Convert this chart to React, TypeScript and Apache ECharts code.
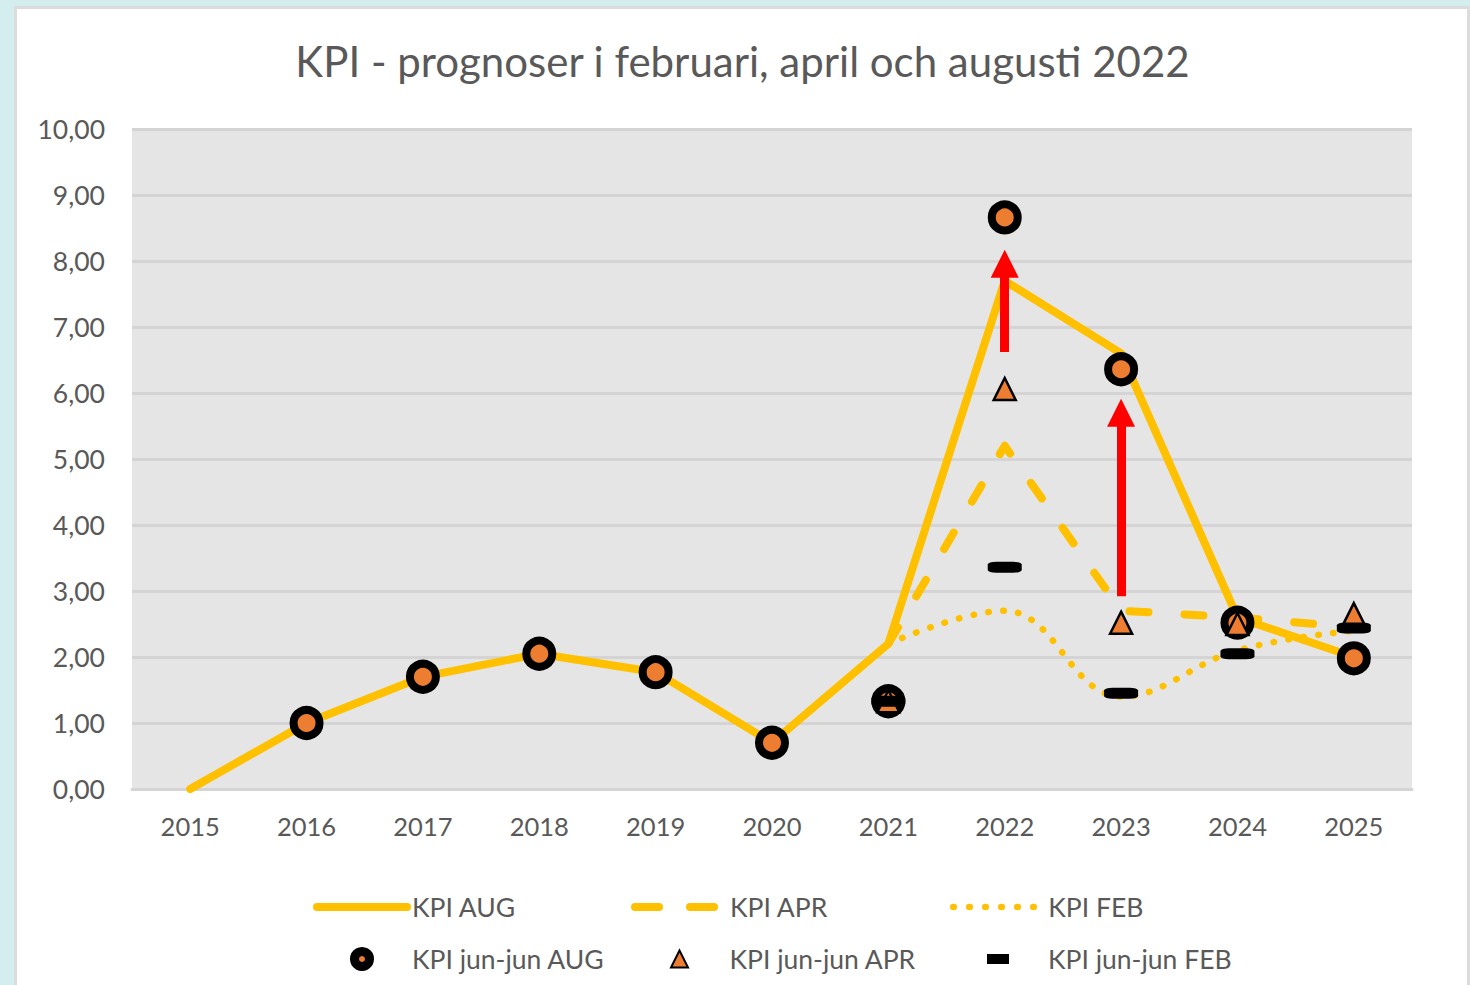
import React, { useEffect, useRef } from "react";
import * as echarts from "echarts";

const years = ["2015", "2016", "2017", "2018", "2019", "2020", "2021", "2022", "2023", "2024", "2025"];
const kpiAug = [0.0, 1.0, 1.7, 2.05, 1.77, 0.7, 2.2, 7.7, 6.6, 2.6, 2.0];
const kpiApr = [null, null, null, null, null, null, 2.2, 5.2, 2.7, 2.6, 2.45];
const kpiFeb = [null, null, null, null, null, null, 2.2, 2.7, 1.4, 2.1, 2.4];
const junAug = [null, 1.0, 1.7, 2.05, 1.77, 0.7, 1.33, 8.66, 6.36, 2.52, 1.98];
const junApr = [null, null, null, null, null, null, 1.33, 6.06, 2.52, 2.5, 2.65];
const junFeb = [null, null, null, null, null, null, 1.33, 3.36, 1.45, 2.05, 2.44];
// red annotation arrows: [year, from value, arrow-head centre value]
const arrows: [string, number, number][] = [
  ["2022", 6.62, 7.96],
  ["2023", 2.92, 5.7],
];
const yTicks = { min: 0, max: 10, interval: 1 };

const FONT = "Lato";
const TXT = "#595959";
const YEL = "#FFC000";
const ORG = "#ED7D31";

export default function App() {
  const ref = useRef<HTMLDivElement>(null);
  useEffect(() => {
    const chart = echarts.init(ref.current!, null, { renderer: "svg" });
    const legendBase = (left: number, top: number, name: string, extra: any) => ({
      left,
      top,
      padding: 0,
      itemWidth: 90,
      itemGap: 0,
      selectedMode: false,
      textStyle: { color: TXT, fontSize: 26.5, fontFamily: FONT, lineHeight: 30 },
      itemHeight: extra.itemHeight,
      data: [{ name, ...(extra.item || {}) }],
    });
    const hideDot = { color: "transparent", borderWidth: 0, opacity: 0 };
    const dash = [19, 36];
    const dots = [0.5, 14.5];
    chart.setOption({
      animation: false,
      title: {
        text: "KPI - prognoser i februari, april och augusti 2022",
        left: "center",
        top: 31,
        textStyle: { color: TXT, fontSize: 42, fontWeight: "normal", fontFamily: FONT, lineHeight: 50 },
      },
      grid: {
        left: 115,
        right: 56,
        top: 129,
        bottom: 196,
        show: true,
        backgroundColor: "#e5e5e5",
        borderWidth: 0,
      },
      legend: [
        legendBase(296, 892, "KPI AUG", {
          itemHeight: 14,
          item: { itemStyle: hideDot, lineStyle: { width: 8, cap: "round", type: "solid" } },
        }),
        legendBase(614, 892, "KPI APR", {
          itemHeight: 14,
          item: { itemStyle: hideDot, lineStyle: { width: 8, cap: "round", type: [24, 31] } },
        }),
        legendBase(933, 892, "KPI FEB", {
          itemHeight: 14,
          item: { itemStyle: hideDot, lineStyle: { width: 6.5, cap: "round", type: [0.5, 15.5] } },
        }),
        legendBase(333, 944, "KPI jun-jun AUG", {
          itemHeight: 15,
          item: { itemStyle: { color: ORG, borderColor: "#000", borderWidth: 9 } },
        }),
        legendBase(653, 944, "KPI jun-jun APR", {
          itemHeight: 17,
          item: { icon: "path://M5,0L10,10L0,10Z", itemStyle: { color: ORG, borderColor: "#000", borderWidth: 2 } },
        }),
        legendBase(970, 944, "KPI jun-jun FEB", {
          itemHeight: 10,
          item: { icon: "path://M0,0h22v10h-22z", itemStyle: { color: "#000", borderWidth: 0 } },
        }),
      ],
      xAxis: {
        type: "category",
        data: years,
        boundaryGap: true,
        axisTick: { show: false },
        axisLine: { show: true, lineStyle: { color: "#d4d4d4", width: 3 } },
        axisLabel: { color: TXT, fontSize: 25.5, fontFamily: FONT, margin: 24 },
      },
      yAxis: {
        type: "value",
        ...yTicks,
        axisLine: { show: false },
        axisTick: { show: false },
        splitLine: { lineStyle: { color: "#d4d4d4", width: 3 } },
        axisLabel: {
          color: TXT,
          fontSize: 26.5,
          fontFamily: FONT,
          margin: 27,
          formatter: (v: number) => v.toFixed(2).replace(".", ","),
        },
      },
      series: [
        {
          name: "KPI AUG",
          type: "line",
          data: kpiAug,
          symbol: "none",
          z: 3,
          lineStyle: { color: YEL, width: 8, cap: "round", join: "round" },
          itemStyle: { color: YEL },
        },
        {
          name: "KPI APR",
          type: "line",
          data: kpiApr,
          symbol: "none",
          z: 2,
          lineStyle: { color: YEL, width: 8, type: dash, cap: "round", join: "round" },
          itemStyle: { color: YEL },
        },
        {
          name: "KPI FEB",
          type: "line",
          data: kpiFeb,
          symbol: "none",
          smooth: 0.4,
          z: 2,
          lineStyle: { color: YEL, width: 6.5, type: dots, cap: "round" },
          itemStyle: { color: YEL },
        },
        {
          name: "KPI jun-jun AUG",
          type: "scatter",
          data: junAug,
          symbol: "circle",
          symbolSize: 26,
          z: 4,
          itemStyle: { color: ORG, borderColor: "#000", borderWidth: 8, opacity: 1 },
        },
        {
          name: "KPI jun-jun APR",
          type: "scatter",
          data: junApr,
          symbol: "triangle",
          symbolSize: [22, 22],
          z: 5,
          itemStyle: { color: ORG, borderColor: "#000", borderWidth: 2.5, opacity: 1 },
        },
        {
          name: "KPI jun-jun FEB",
          type: "scatter",
          data: junFeb,
          symbol: "roundRect",
          symbolSize: [34, 11],
          z: 6,
          itemStyle: { color: "#000", opacity: 1 },
        },
        {
          name: "arrows",
          type: "line",
          data: [],
          z: 10,
          markLine: {
            silent: true,
            symbol: ["none", "triangle"],
            symbolSize: 28,
            label: { show: false },
            lineStyle: { color: "#ff0000", width: 9, type: "solid" },
            emphasis: { disabled: true },
            data: arrows.map(([y, a, b]) => [
              { coord: [years.indexOf(y), a], itemStyle: { color: "#ff0000" } },
              { coord: [years.indexOf(y), b], itemStyle: { color: "#ff0000" } },
            ]),
          },
        },
      ],
    });
    return () => chart.dispose();
  }, []);

  return (
    <div style={{ position: "fixed", left: 0, top: 0, width: 1470, height: 985, background: "#d4eef0", overflow: "hidden" }}>
      <div
        style={{
          position: "absolute",
          left: 14,
          top: 6,
          width: 1456,
          height: 1100,
          boxSizing: "border-box",
          border: "3px solid #dcdcdc",
          background: "#ffffff",
        }}
      />
      <div ref={ref} style={{ position: "absolute", left: 17, top: 0, width: 1451, height: 985 }} />
    </div>
  );
}
